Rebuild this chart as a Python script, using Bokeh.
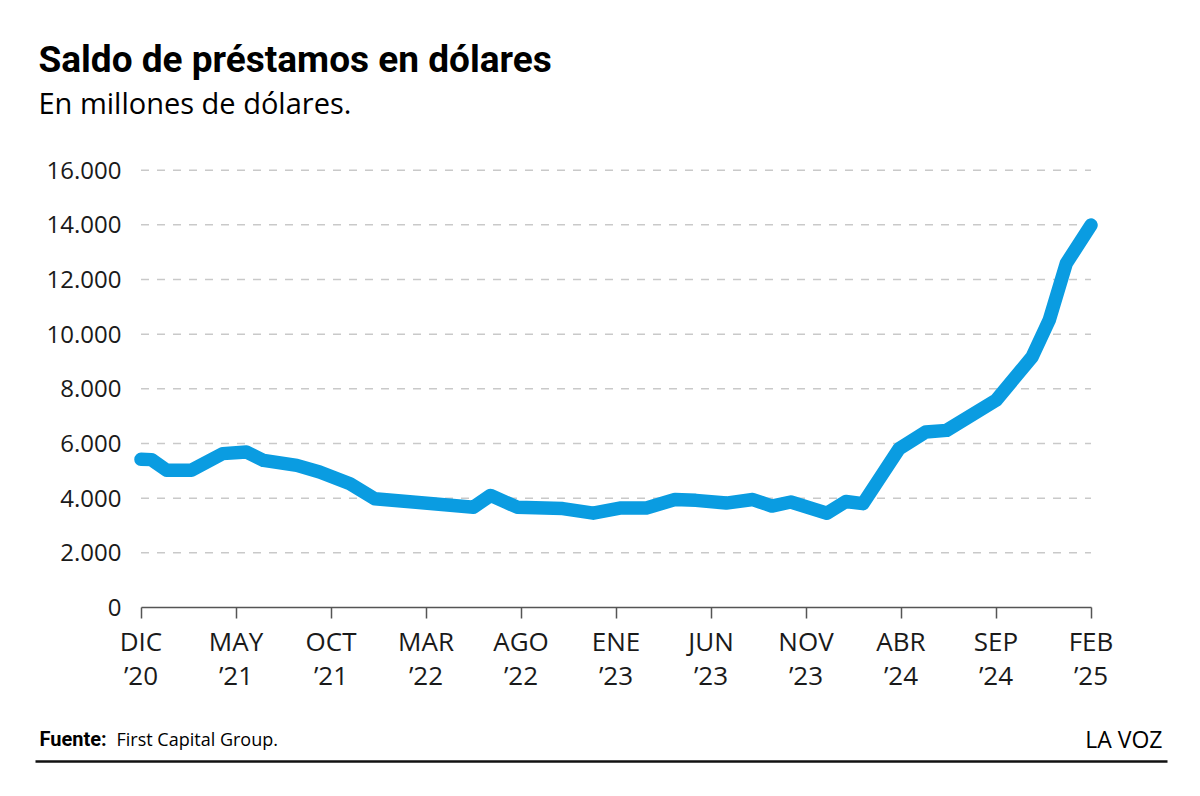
from bokeh.plotting import figure
from bokeh.layouts import column
from bokeh.models import Label, FixedTicker, Range1d
from bokeh.embed import file_html
from bokeh.resources import INLINE

# Meses transcurridos desde diciembre de 2020 (vértices de la serie) y saldo en millones de USD
meses = [0, 0.55, 1.35, 2.65, 4.3, 5.55, 6.45, 8.2, 9.4, 11.0, 12.3, 17.5, 18.4, 19.8,
         22.2, 23.8, 25.2, 26.6, 28.1, 29.2, 30.8, 32.2, 33.2, 34.2, 36.1, 37.1, 38.0,
         39.9, 41.3, 42.4, 45.0, 46.9, 47.8, 48.7, 50.0]
saldo = [5420, 5410, 5020, 5020, 5630, 5690, 5380, 5200, 4960, 4530, 3980, 3670, 4100, 3670,
         3620, 3450, 3640, 3640, 3950, 3920, 3820, 3950, 3710, 3860, 3450, 3880, 3800,
         5810, 6420, 6480, 7580, 9170, 10510, 12590, 13990]

y_ticks = [0, 2000, 4000, 6000, 8000, 10000, 12000, 14000, 16000]
y_labels = ["0", "2.000", "4.000", "6.000", "8.000", "10.000", "12.000", "14.000", "16.000"]
x_ticks = [0, 5, 10, 15, 20, 25, 30, 35, 40, 45, 50]
x_labels = ["DIC\n’20", "MAY\n’21", "OCT\n’21", "MAR\n’22", "AGO\n’22", "ENE\n’23",
            "JUN\n’23", "NOV\n’23", "ABR\n’24", "SEP\n’24", "FEB\n’25"]

BLUE = "#0a9ce1"
TXT = "#1a1a1a"
FONT = "Open Sans"
BOLD_FONT = "Roboto"

W = 1200
HEAD_H, FOOT_H = 130, 96
MAIN_H = 796 - HEAD_H - FOOT_H

# horizontal mapping: month 0 at px 140.5, 19 px per month, frame spans the full width
PX0, PXM = 140.5, 19.0


def blank(h, y0):
    f = figure(width=W, height=h, x_range=Range1d(0, W), y_range=Range1d(y0 + h, y0),
               output_backend="svg", toolbar_location=None, min_border=0,
               x_axis_location=None, y_axis_location=None)
    f.grid.visible = False
    f.outline_line_color = None
    f.background_fill_color = "white"
    f.border_fill_color = "white"
    return f


def lab(f, x, y, text, size, bold=False, align="left", font=FONT):
    f.add_layout(Label(x=x, y=y, text=text, text_font=font, text_font_size=size,
                       text_font_style="bold" if bold else "normal",
                       text_color="black", text_align=align, text_baseline="alphabetic"))


# ---- header ----
head = blank(HEAD_H, 0)
lab(head, 38, 59, "Saldo de préstamos en dólares", "37px", bold=True, font=BOLD_FONT)
lab(head, 38, 102, "En millones de dólares.", "29px")

# ---- main chart ----
F_TOP, F_BOTTOM = 156 - HEAD_H, 607 - HEAD_H
p = figure(width=W, height=MAIN_H,
           x_range=Range1d(-PX0 / PXM, (W - PX0) / PXM), y_range=Range1d(0, 16500),
           output_backend="svg", toolbar_location=None,
           min_border_left=0, min_border_right=0, min_border_top=F_TOP,
           min_border_bottom=MAIN_H - F_BOTTOM)
p.outline_line_color = None
p.background_fill_color = "white"
p.border_fill_color = "white"
p.xgrid.visible = False
p.ygrid.visible = False

gy = y_ticks[1:]
p.segment(x0=[meses[0]] * len(gy), x1=[meses[-1]] * len(gy), y0=gy, y1=gy,
          line_color="#c9c9c9", line_width=1.5, line_dash="8 8")

p.line(meses, saldo, line_color=BLUE, line_width=13.5, line_cap="round", line_join="round")

xa = p.xaxis[0]
xa.ticker = FixedTicker(ticks=x_ticks)
xa.major_label_overrides = {t: l for t, l in zip(x_ticks, x_labels)}
xa.bounds = (x_ticks[0], x_ticks[-1])
xa.axis_line_color = "#555555"
xa.axis_line_width = 1.5
xa.major_tick_line_color = "#555555"
xa.major_tick_line_width = 1.5
xa.major_tick_out = 11
xa.major_tick_in = 0
xa.minor_tick_out = 0
xa.minor_tick_in = 0
xa.major_label_standoff = 4
xa.major_label_text_font = FONT
xa.major_label_text_font_size = "26px"
xa.major_label_text_color = TXT
xa.major_label_text_line_height = 0.96

ya = p.yaxis[0]
ya.ticker = FixedTicker(ticks=y_ticks)
ya.major_label_overrides = {t: l for t, l in zip(y_ticks, y_labels)}
ya.axis_line_color = None
ya.major_tick_line_color = None
ya.minor_tick_line_color = None
ya.major_tick_out = 0
ya.major_tick_in = 0
ya.minor_tick_out = 0
ya.minor_tick_in = 0
ya.major_label_standoff = -121   # labels right-aligned at x = 121 px, inside the wide frame
ya.major_label_text_font = FONT
ya.major_label_text_font_size = "24px"
ya.major_label_text_color = TXT

# ---- footer ----
y0f = HEAD_H + MAIN_H
foot = blank(FOOT_H, y0f)
lab(foot, 39, 738, "Fuente:", "20px", bold=True, font=BOLD_FONT)
lab(foot, 116, 738, "First Capital Group.", "18px")
lab(foot, 1162, 738, "LA VOZ", "23px", align="right")
foot.segment(x0=[35], x1=[1167], y0=[761], y1=[761], line_color="#111111", line_width=2.5)

layout = column(head, p, foot, spacing=0)
open("out.html", "w").write(file_html(layout, INLINE))
